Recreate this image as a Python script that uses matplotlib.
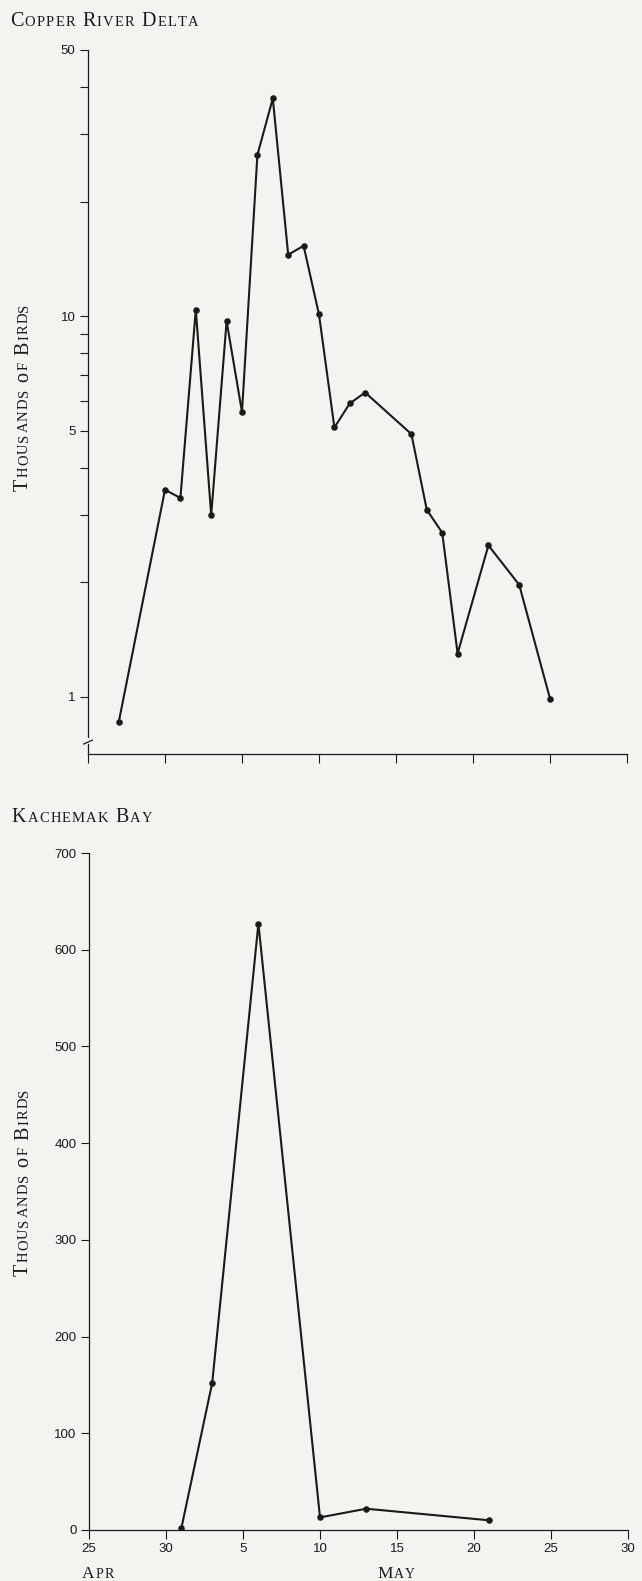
import numpy as np
import matplotlib
matplotlib.use("Agg")
import matplotlib.pyplot as plt
from matplotlib.ticker import FixedLocator, NullFormatter, NullLocator

# survey dates and counts (thousands of birds)
cr_dates = ["Apr 27", "Apr 30", "May 1", "May 2", "May 3", "May 4", "May 5",
            "May 6", "May 7", "May 8", "May 9", "May 10", "May 11", "May 12",
            "May 13", "May 16", "May 17", "May 18", "May 19", "May 21",
            "May 23", "May 25"]
cr_birds = [0.86, 3.5, 3.33, 10.4, 3.0, 9.7, 5.6, 26.5, 37.3, 14.5, 15.3,
            10.1, 5.1, 5.9, 6.3, 4.9, 3.1, 2.7, 1.3, 2.5, 1.97, 0.99]

kb_dates = ["May 1", "May 3", "May 6", "May 10", "May 13", "May 21"]
kb_birds = [2, 152, 627, 13, 22, 10]

x_ticks = [0, 5, 10, 15, 20, 25, 30, 35]
x_ticklabels = ["25", "30", "5", "10", "15", "20", "25", "30"]
log_major = [1, 5, 10, 50]
log_minor = [2, 3, 4, 6, 7, 8, 9, 20, 30, 40]
lin_ticks = [0, 100, 200, 300, 400, 500, 600, 700]

BG = "#f4f3ef"
INK = "#1a1a1a"
SERIF = "Liberation Serif"
SANS = "Liberation Sans"


def day_num(s):
    mon, d = s.split()
    return int(d) - 25 if mon == "Apr" else int(d) + 5


W, H = 642, 1581
fig = plt.figure(figsize=(W / 100, H / 100), dpi=100)
fig.patch.set_facecolor(BG)
renderer = fig.canvas.get_renderer()


def small_caps(text, x, y, big=14.5, small=10.5, track=1.2, vertical=False, center=False):
    # x, y in pixels from the top-left corner, on the baseline
    pieces = []
    for w in text.split(" "):
        pieces.append((w[0], big))
        if len(w) > 1:
            pieces.append((w[1:].upper(), small))
        pieces.append((" ", None))
    pieces = pieces[:-1]
    arts = []
    pos = 0.0
    for s, fs in pieces:
        if fs is None:
            pos += big * 0.3 * 100 / 72
            continue
        for ch in s:
            t = fig.text(0, 0, ch, fontsize=fs, family=SERIF, color=INK,
                         rotation=90 if vertical else 0, rotation_mode="anchor",
                         ha="left", va="baseline")
            bb = t.get_window_extent(renderer)
            arts.append((t, pos))
            pos += (bb.height if vertical else bb.width) + track
    total = pos - track
    start = -total / 2 if center else 0
    for t, p in arts:
        if vertical:
            t.set_position((x / W, (H - y + start + p) / H))
        else:
            t.set_position(((x + start + p) / W, (H - y) / H))


def style(ax):
    ax.set_facecolor(BG)
    for s in ["top", "right"]:
        ax.spines[s].set_visible(False)
    for s in ["left", "bottom"]:
        ax.spines[s].set_color(INK)
        ax.spines[s].set_linewidth(0.9)
    ax.tick_params(which="major", length=6, width=0.8, color=INK, labelsize=9.5,
                   labelcolor=INK, pad=3)
    ax.tick_params(which="minor", length=5.5, width=0.8, color=INK)
    for lab in ax.get_yticklabels() + ax.get_xticklabels():
        lab.set_family(SANS)


# Copper River Delta (log scale)
ax1 = fig.add_axes([88 / W, (H - 754) / H, 539 / W, 704 / H])
ax1.plot([day_num(d) for d in cr_dates], cr_birds, color=INK, lw=1.5,
         marker="o", ms=3.7)
ax1.set_yscale("log")
ax1.set_ylim(0.708, 50)
ax1.set_xlim(0, 35)
ax1.yaxis.set_major_locator(FixedLocator(log_major))
ax1.yaxis.set_minor_locator(FixedLocator(log_minor))
ax1.yaxis.set_minor_formatter(NullFormatter())
ax1.set_yticklabels([str(v) for v in log_major])
ax1.set_xticks(x_ticks)
ax1.set_xticklabels([])
ax1.xaxis.set_minor_locator(NullLocator())
style(ax1)
ax1.tick_params(axis="x", length=6.5)
ax1.spines["left"].set_bounds(0.785, 50)
# axis break
yt = ax1.get_yaxis_transform()
ax1.plot([0, 0], [0.708, 0.75], color=INK, lw=0.9, transform=yt, clip_on=False)
ax1.plot([-0.008, 0.008], [0.752, 0.77], color=INK, lw=0.9, transform=yt, clip_on=False)

# Kachemak Bay (linear)
ax2 = fig.add_axes([89 / W, (H - 1530) / H, 539 / W, 677 / H])
ax2.plot([day_num(d) for d in kb_dates], kb_birds, color=INK, lw=1.5,
         marker="o", ms=3.7)
ax2.set_ylim(0, 700)
ax2.set_xlim(0, 35)
ax2.set_yticks(lin_ticks)
ax2.set_xticks(x_ticks)
ax2.set_xticklabels(x_ticklabels)
style(ax2)
ax2.tick_params(axis="x", length=6.5)

small_caps("Copper River Delta", 10, 26)
small_caps("Kachemak Bay", 11.7, 821.7)
small_caps("Thousands of Birds", 28, 397, vertical=True, center=True)
small_caps("Thousands of Birds", 28, 1182, vertical=True, center=True)
small_caps("Apr", 82, 1578, big=12.5, small=10)
small_caps("May", 377, 1578, big=12.5, small=10)

fig.savefig("out.png", dpi=100, facecolor=BG)
